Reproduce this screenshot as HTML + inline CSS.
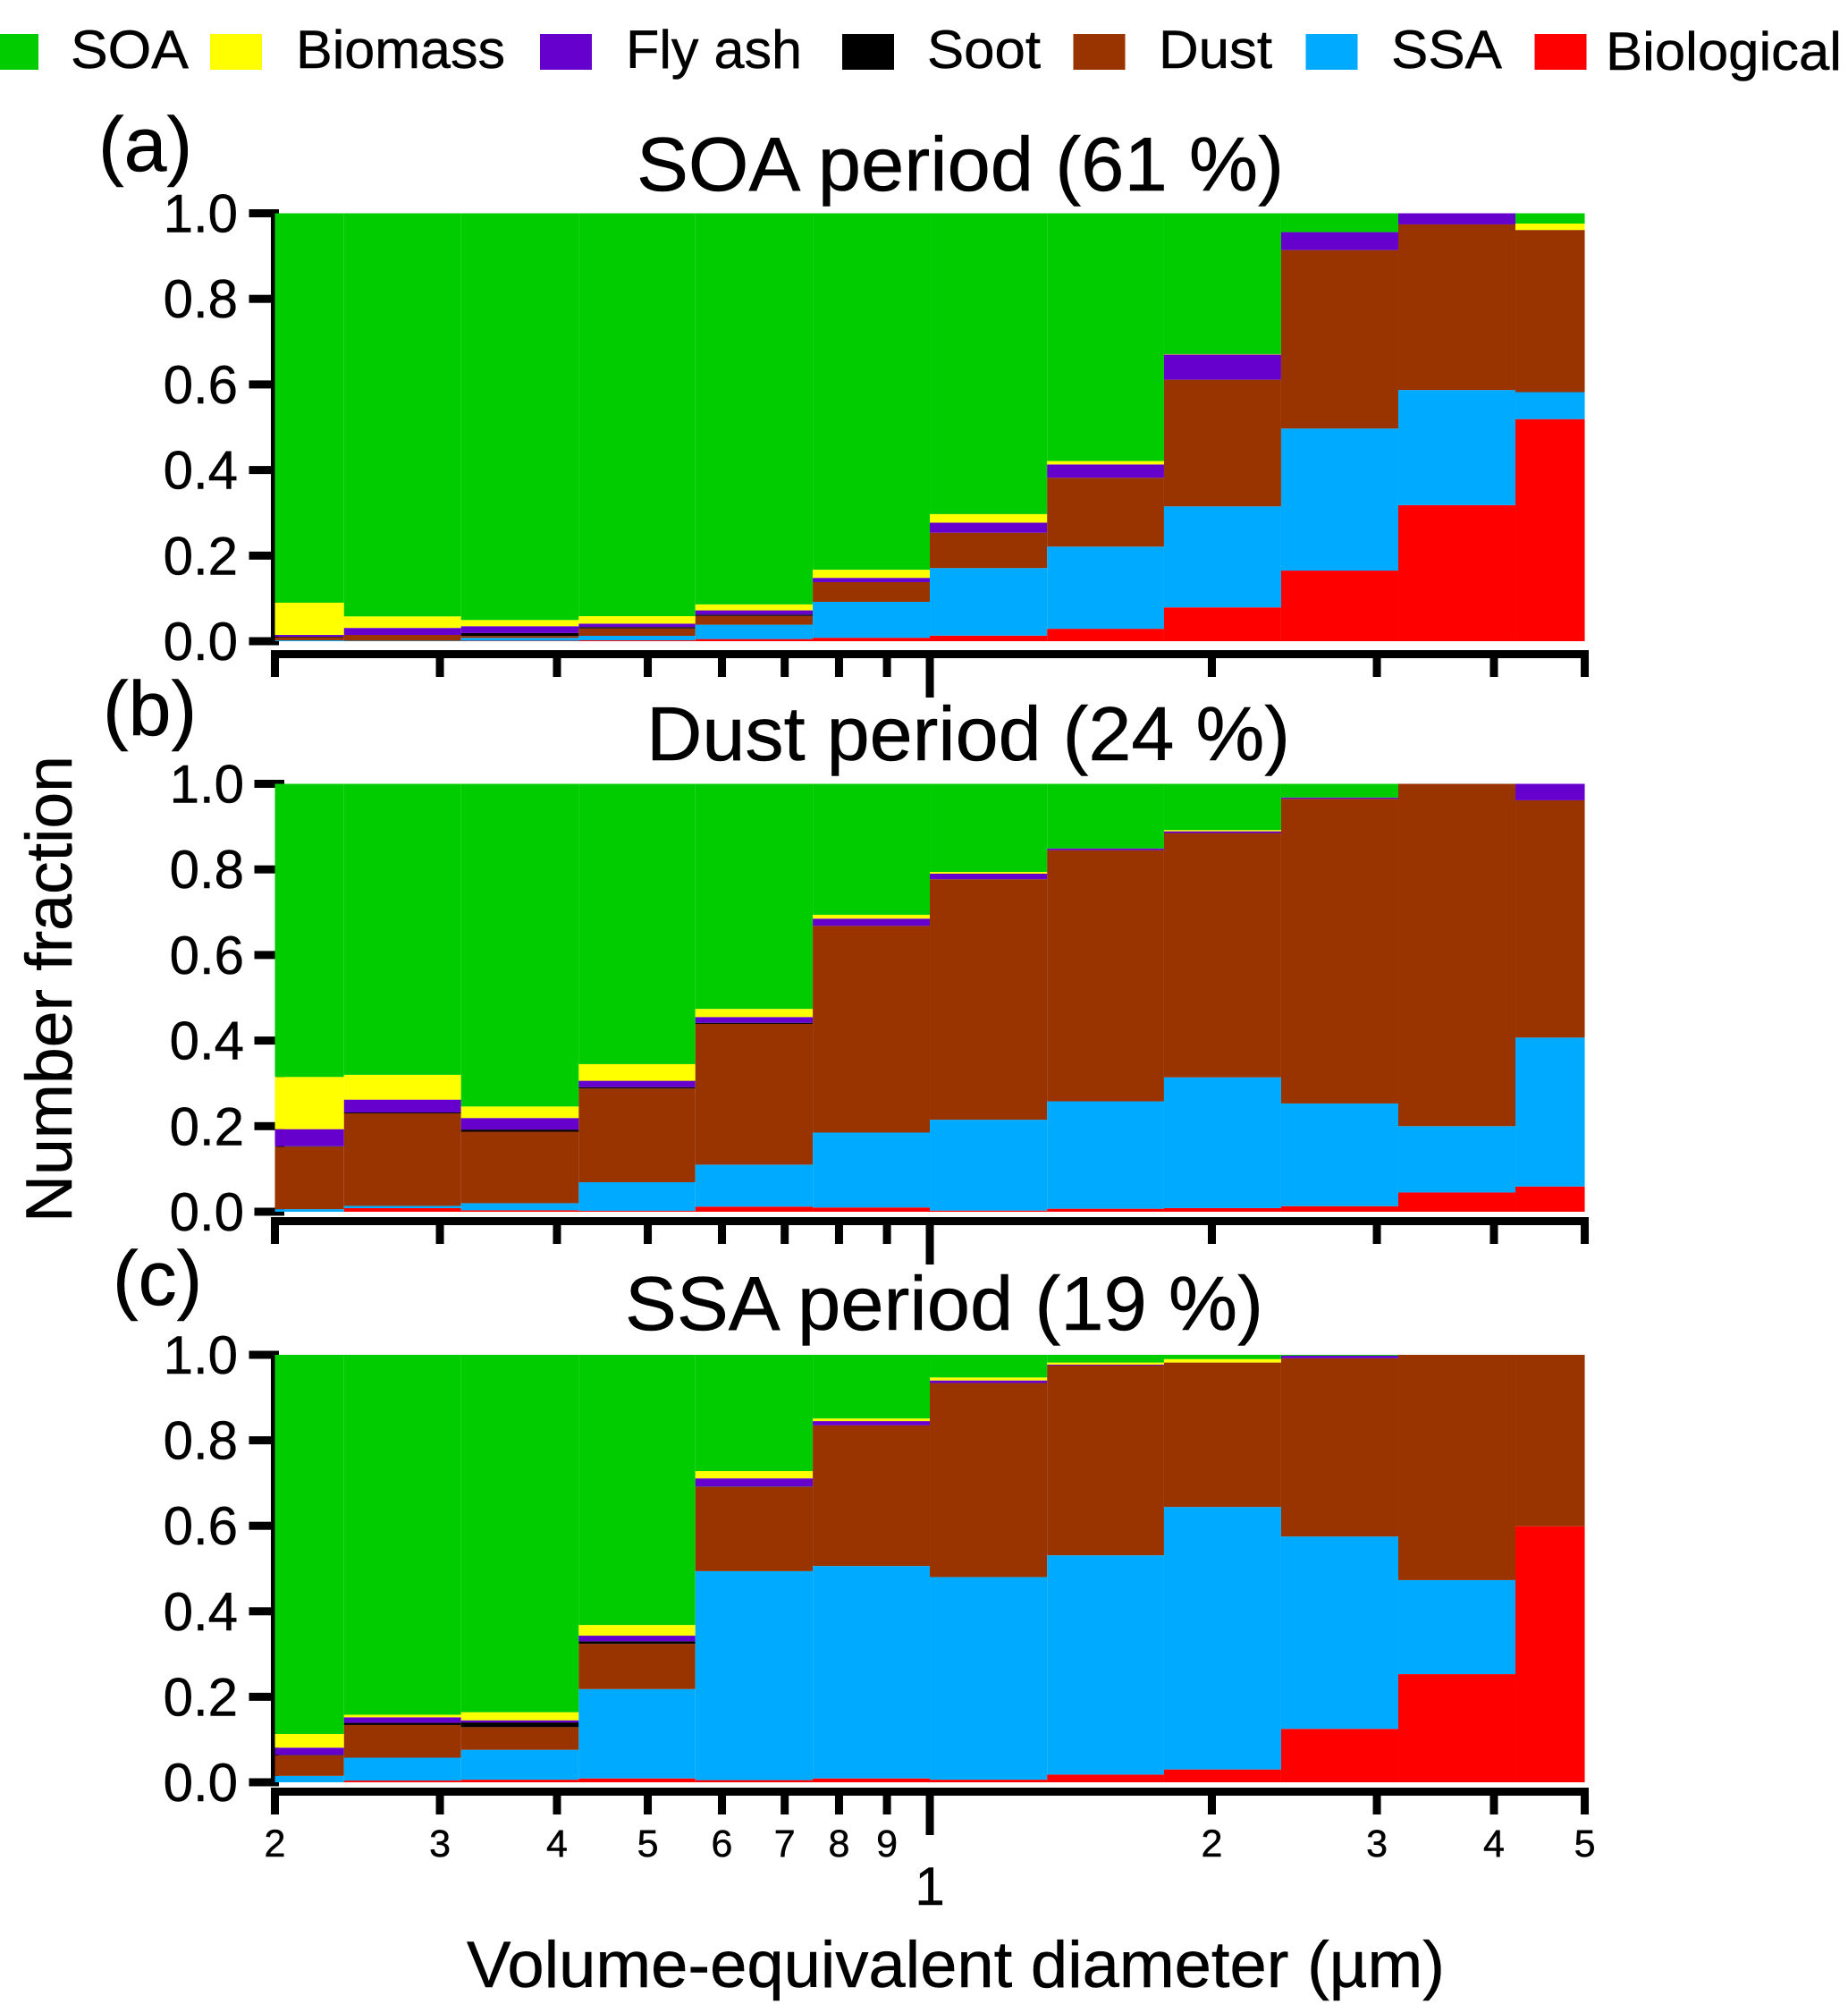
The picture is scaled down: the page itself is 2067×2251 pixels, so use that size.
<!DOCTYPE html>
<html lang="en">
<head>
<meta charset="utf-8">
<title>Number fraction by volume-equivalent diameter</title>
<style>
html,body{margin:0;padding:0;background:#fff;}
svg{display:block;font-family:"Liberation Sans",Arial,sans-serif;fill:#000;}
text{stroke:#000;stroke-width:.5px;}
</style>
</head>
<body>
<svg id="chart" xmlns="http://www.w3.org/2000/svg" width="2067" height="2251" viewBox="0 0 2067 2251">
  <rect x="0" y="0" width="2067" height="2251" fill="#fff"/>
  <g font-size="60">
    <g><rect x="-15" y="38" width="58" height="40" fill="#00CC00"/><text x="79" y="76" textLength="132" lengthAdjust="spacingAndGlyphs">SOA</text></g>
    <g><rect x="235" y="38" width="58" height="40" fill="#FFFF00"/><text x="331" y="76" textLength="234" lengthAdjust="spacingAndGlyphs">Biomass</text></g>
    <g><rect x="604" y="38" width="58" height="40" fill="#6600CC"/><text x="700" y="76" textLength="197" lengthAdjust="spacingAndGlyphs">Fly ash</text></g>
    <g><rect x="942" y="38" width="58" height="40" fill="#000000"/><text x="1037" y="76" textLength="127" lengthAdjust="spacingAndGlyphs">Soot</text></g>
    <g><rect x="1200.5" y="38" width="58" height="40" fill="#993300"/><text x="1296" y="76" textLength="127" lengthAdjust="spacingAndGlyphs">Dust</text></g>
    <g><rect x="1460.5" y="38" width="58" height="40" fill="#00AAFF"/><text x="1556" y="76" textLength="124" lengthAdjust="spacingAndGlyphs">SSA</text></g>
    <g><rect x="1716.5" y="38" width="58" height="40" fill="#FF0000"/><text x="1796" y="78" textLength="264" lengthAdjust="spacingAndGlyphs">Biological</text></g>
  </g>
  <text x="110" y="191" font-size="86">(a)</text>
  <text x="712" y="213" font-size="85" textLength="724" lengthAdjust="spacingAndGlyphs">SOA period (61 %)</text>
  <text x="115" y="822" font-size="86">(b)</text>
  <text x="723" y="850" font-size="85" textLength="720" lengthAdjust="spacingAndGlyphs">Dust period (24 %)</text>
  <text x="126" y="1459" font-size="86">(c)</text>
  <text x="699" y="1487" font-size="85" textLength="714" lengthAdjust="spacingAndGlyphs">SSA period (19 %)</text>
  <text transform="translate(80 1367) rotate(-90)" font-size="73" textLength="522" lengthAdjust="spacingAndGlyphs">Number fraction</text>
  <text x="522" y="2222" font-size="73" textLength="1094" lengthAdjust="spacingAndGlyphs">Volume-equivalent diameter (µm)</text>
  <g id="plots"></g>
</svg>
<script>
// Bin edges (µm)
const binEdges = [0.2, 0.237, 0.316, 0.422, 0.562, 0.75, 1, 1.334, 1.778, 2.371, 3.162, 4.217, 5];
// Axis ticks
const yTicks = [0, 0.2, 0.4, 0.6, 0.8, 1];
const yTickLabels = ["0.0", "0.2", "0.4", "0.6", "0.8", "1.0"];
const xTicks = [0.2, 0.3, 0.4, 0.5, 0.6, 0.7, 0.8, 0.9, 1, 2, 3, 4, 5];
const xTickLabels = ["2", "3", "4", "5", "6", "7", "8", "9", "1", "2", "3", "4", "5"];
// Series stack order, bottom to top
const seriesNames = ["biological", "ssa", "dust", "soot", "fly-ash", "biomass", "soa"];
const seriesColors = ["#FF0000", "#00AAFF", "#993300", "#000000", "#6600CC", "#FFFF00", "#00CC00"];

// Panel (a) SOA period
const aBiological = [0, 0, .001, .002, .005, .008, .013, .029, .079, .165, .318, .519];
const aSsa = [.002, .001, .0067, .0105, .0335, .084, .158, .192, .236, .332, .269, .063];
const aDust = [.007, .0136, .0043, .0175, .0205, .046, .0825, .161, .296, .417, .387, .379];
const aSoot = [.0015, 0, .007, .003, .003, 0, 0, 0, 0, 0, 0, 0];
const aFlyAsh = [.0041, .0164, .016, .008, .01, .01, .0235, .031, .059, .042, .026, 0];
const aBiomass = [.0754, .027, .0145, .0175, .014, .019, .02, .008, .001, 0, 0, .015];
const aSoa = [.91, .942, .9505, .9415, .914, .833, .703, .579, .329, .044, 0, .024];

// Panel (b) Dust period
const bBiological = [0, .0085, .0035, .002, .012, .01, .0026, .007, .0085, .013, .045, .059];
const bSsa = [.006, .0052, .0165, .067, .098, .175, .2124, .251, .3055, .24, .155, .348];
const bDust = [.146, .2163, .167, .219, .329, .483, .562, .587, .571, .712, .8, .5545];
const bSoot = [.001, .002, .005, .003, .0025, 0, 0, 0, 0, 0, 0, 0];
const bFlyAsh = [.04, .03, .027, .015, .0135, .017, .013, .004, .004, .003, 0, .0385];
const bBiomass = [.122, .058, .027, .039, .019, .009, .004, 0, .003, 0, 0, 0];
const bSoa = [.685, .68, .754, .655, .526, .306, .206, .151, .108, .032, 0, 0];

// Panel (c) SSA period
const cBiological = [0, .004, .006, .009, .005, .009, .006, .018, .03, .125, .253, .599];
const cSsa = [.015, .0535, .07, .209, .489, .497, .474, .513, .614, .45, .22, 0];
const cDust = [.048, .0765, .053, .106, .197, .329, .454, .444, .338, .417, .527, .401];
const cSoot = [.001, .005, .011, .006, .001, 0, 0, 0, 0, 0, 0, 0];
const cFlyAsh = [.017, .013, .005, .013, .019, .01, .006, .002, 0, .006, 0, 0];
const cBiomass = [.032, .006, .019, .025, .017, .006, .007, .005, .008, 0, 0, 0];
const cSoa = [.887, .842, .836, .632, .272, .149, .053, .018, .01, .002, 0, 0];

const NS = "http://www.w3.org/2000/svg";
const plots = document.getElementById("plots");

function xScale(d) {
  return 307.5 + 1048 * Math.log10(d / 0.2);
}

function addRect(parent, x, y, w, h, fill) {
  const r = document.createElementNS(NS, "rect");
  r.setAttribute("x", x);
  r.setAttribute("y", y);
  r.setAttribute("width", w);
  r.setAttribute("height", h);
  r.setAttribute("fill", fill);
  parent.appendChild(r);
  return r;
}

function drawPanel(key, seriesValues, layout) {
  const g = document.createElementNS(NS, "g");
  
  
  plots.appendChild(g);
  const yScale = v => layout.bottom - (layout.bottom - layout.top) * v;

  // y axis, behind the bars
  const yAxis = addRect(g, layout.axisX - 4.5, layout.top - 4.5, 9, layout.bottom - layout.top + 9, "#000");
  
  
  yTicks.forEach((t, i) => {
    const tick = addRect(g, layout.axisX - 29, yScale(t) - 4.5, 33.5, 9, "#000");
    
    
    const label = document.createElementNS(NS, "text");
    
    
    label.setAttribute("x", layout.labelX);
    label.setAttribute("y", yScale(t) + 21);
    label.setAttribute("font-size", "60");
    label.setAttribute("text-anchor", "end");
    label.textContent = yTickLabels[i];
    g.appendChild(label);
  });

  // stacked bars
  for (let b = 0; b < binEdges.length - 1; b++) {
    let cum = 0;
    const x0 = xScale(binEdges[b]);
    const x1 = xScale(binEdges[b + 1]);
    seriesValues.forEach((vals, s) => {
      const v = vals[b];
      if (v > 0) {
        const top = cum + v;
        const bar = addRect(g, x0, yScale(top), x1 - x0, yScale(cum) - yScale(top), seriesColors[s]);
        
        
      }
      cum += v;
    });
  }

  // x axis
  const xAxis = addRect(g, 303, layout.xAxisY, 1474, 9, "#000");
  
  
  xTicks.forEach((t, i) => {
    const major = t === 1;
    const tick = addRect(g, xScale(t) - 4.5, layout.xAxisY + 9, 9, major ? 44 : 21, "#000");
    
    
    if (layout.showXLabels) {
      const label = document.createElementNS(NS, "text");
      
      
      label.setAttribute("x", xScale(t));
      label.setAttribute("y", major ? 2130 : 2076);
      label.setAttribute("font-size", major ? "60" : "43");
      label.setAttribute("text-anchor", "middle");
      label.textContent = xTickLabels[i];
      g.appendChild(label);
    }
  });
}

drawPanel("a", [aBiological, aSsa, aDust, aSoot, aFlyAsh, aBiomass, aSoa],
  {top: 238.5, bottom: 717, axisX: 307.5, labelX: 266, xAxisY: 727, showXLabels: false});
drawPanel("b", [bBiological, bSsa, bDust, bSoot, bFlyAsh, bBiomass, bSoa],
  {top: 876.5, bottom: 1355, axisX: 313.5, labelX: 273, xAxisY: 1361, showXLabels: false});
drawPanel("c", [cBiological, cSsa, cDust, cSoot, cFlyAsh, cBiomass, cSoa],
  {top: 1515, bottom: 1993, axisX: 307.5, labelX: 266, xAxisY: 1999, showXLabels: true});
</script>
</body>
</html>
